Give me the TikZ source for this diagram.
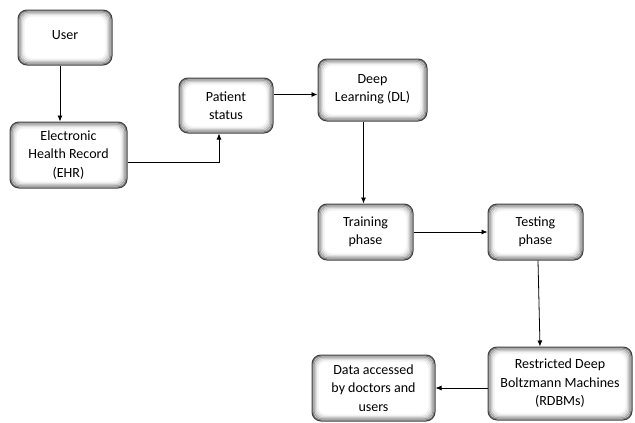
\documentclass[tikz,border=0pt]{standalone}
\usepackage{fontspec}
\setmainfont{Carlito}
\usetikzlibrary{arrows.meta,calc}
\tikzset{
  box/.style={draw=black!75, line width=1pt, rounded corners=9pt, fill=white,
    align=center, font=\fontsize{14}{18.5}\selectfont, inner sep=2pt,
    path picture={
      \foreach \d/\c in {1/50,2.2/34,3.4/22,4.6/12,5.8/5}{
        \draw[line width=1.4pt, black!\c, rounded corners=8pt]
          ([shift={(\d pt,-\d pt)}]path picture bounding box.north west) rectangle
          ([shift={(-\d pt,\d pt)}]path picture bounding box.south east);
      }
    }},
  arr/.style={draw=black, line width=0.8pt, -{Latex[length=6pt,width=5pt]}}
}
\begin{document}
\begin{tikzpicture}[x=1pt,y=-1pt]
\useasboundingbox (0,0) rectangle (635,423);
\node[box, minimum width=94pt, minimum height=55pt] (user) at (65,37.5) {\raisebox{4pt}{User}};
\node[box, minimum width=117pt, minimum height=66pt] (ehr) at (68.5,155) {Electronic\\Health Record\\(EHR)};
\node[box, minimum width=94pt, minimum height=55pt] (pat) at (226,105.5) {Patient\\status};
\node[box, minimum width=109pt, minimum height=62pt] (dl) at (372.5,90) {\raisebox{4pt}{\shortstack{Deep\\[3pt]Learning (DL)}}};
\node[box, minimum width=95pt, minimum height=56pt] (train) at (365.5,232) {Training\\phase};
\node[box, minimum width=95pt, minimum height=56pt] (test) at (535.5,232) {Testing\\phase};
\node[box, minimum width=144pt, minimum height=73pt] (rdbm) at (560,383.5) {Restricted Deep\\Boltzmann Machines\\(RDBMs)};
\node[box, minimum width=123pt, minimum height=66pt] (data) at (373.5,388) {Data accessed\\by doctors and\\users};

\draw[arr] ([xshift=-5pt]user.south) -- ([xshift=-5pt]user.south |- ehr.north);
\draw[arr] ([yshift=-7pt]ehr.east) -| ([xshift=-7pt]pat.south);
\draw[arr] ([yshift=11pt]pat.east) -- ([yshift=11pt]pat.east -| dl.west);
\draw[arr] ([xshift=-9pt]dl.south) -- ([xshift=-9pt]dl.south |- train.north);
\draw[arr] (train.east) -- (test.west);
\draw[arr] ([xshift=2.5pt]test.south) -- ([xshift=-20pt]rdbm.north);
\draw[arr] ([yshift=-4.5pt]rdbm.west) -- ([yshift=-4.5pt]rdbm.west -| data.east);
\end{tikzpicture}
\end{document}
